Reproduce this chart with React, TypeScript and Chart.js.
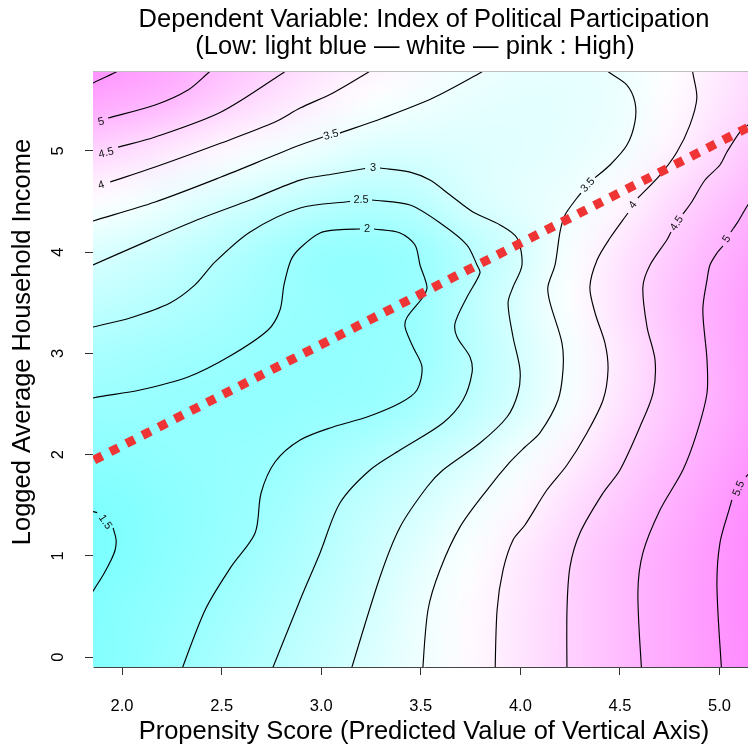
import React, { useEffect, useRef } from "react";
import { Chart, registerables } from "chart.js";

Chart.register(...registerables);

const FONT = "'Liberation Sans', Arial, Helvetica, sans-serif";

// ---------- axes ----------
const xTicks = [2.0, 2.5, 3.0, 3.5, 4.0, 4.5, 5.0];
const yTicks = [0, 1, 2, 3, 4, 5];
const xLimits = [1.854, 5.178];
const yLimits = [-0.096, 5.788];

const titleLines = [
  "Dependent Variable: Index of Political Participation",
  "(Low: light blue \u2014 white \u2014 pink : High)",
];
const xTitle = "Propensity Score (Predicted Value of Vertical Axis)";
const yTitle = "Logged Average Household Income";

// ---------- background field ----------
const gridX = [1.75, 2.0, 2.25, 2.5, 2.75, 3.0, 3.25, 3.5, 3.75, 4.0, 4.25, 4.5, 4.75, 5.0, 5.25];
const gridY = [6.0, 5.5, 5.0, 4.5, 4.0, 3.5, 3.0, 2.5, 2.0, 1.5, 1.0, 0.5, 0.0, -0.5];
const zRow60 = [5.75, 5.55, 5.3, 4.95, 4.6, 4.3, 4.05, 3.85, 3.6, 3.4, 3.35, 3.45, 3.75, 4.1, 4.45];
const zRow55 = [5.3, 5.15, 4.95, 4.57, 4.25, 3.97, 3.72, 3.52, 3.35, 3.28, 3.3, 3.42, 3.8, 4.15, 4.5];
const zRow50 = [4.55, 4.35, 4.1, 3.87, 3.6, 3.4, 3.12, 3.1, 3.18, 3.25, 3.33, 3.5, 3.95, 4.4, 4.8];
const zRow45 = [3.8, 3.67, 3.38, 3.08, 2.85, 2.58, 2.45, 2.6, 3.05, 3.3, 3.48, 3.88, 4.35, 4.75, 5.05];
const zRow40 = [3.2, 3.0, 2.8, 2.49, 2.2, 1.93, 1.88, 2.03, 2.5, 3.0, 3.64, 4.17, 4.6, 5.02, 5.35];
const zRow35 = [2.72, 2.62, 2.44, 2.24, 2.04, 1.92, 1.88, 2.03, 2.58, 3.14, 3.72, 4.25, 4.75, 5.15, 5.5];
const zRow30 = [2.3, 2.2, 2.1, 2.02, 1.93, 1.88, 1.9, 2.05, 2.5, 3.03, 3.58, 4.13, 4.67, 5.12, 5.5];
const zRow25 = [2.0, 1.97, 1.92, 1.88, 1.87, 1.9, 1.96, 2.2, 2.6, 3.05, 3.63, 4.2, 4.68, 5.1, 5.5];
const zRow20 = [1.73, 1.78, 1.85, 1.9, 1.96, 2.15, 2.4, 2.7, 3.05, 3.52, 3.98, 4.44, 4.85, 5.25, 5.6];
const zRow15 = [1.48, 1.58, 1.75, 1.9, 2.08, 2.38, 2.72, 3.04, 3.46, 3.87, 4.28, 4.67, 5.05, 5.42, 5.75];
const zRow10 = [1.4, 1.56, 1.77, 1.95, 2.2, 2.5, 2.88, 3.28, 3.7, 4.1, 4.48, 4.85, 5.18, 5.5, 5.8];
const zRow05 = [1.5, 1.7, 1.85, 2.08, 2.35, 2.66, 3.0, 3.45, 3.82, 4.16, 4.52, 4.87, 5.2, 5.51, 5.8];
const zRow00 = [1.6, 1.7, 1.95, 2.22, 2.49, 2.8, 3.13, 3.49, 3.84, 4.18, 4.52, 4.86, 5.2, 5.5, 5.8];
const zRowM05 = [1.65, 1.78, 2.05, 2.32, 2.6, 2.9, 3.22, 3.55, 3.88, 4.2, 4.54, 4.87, 5.2, 5.5, 5.8];
const gridZ = [zRow60, zRow55, zRow50, zRow45, zRow40, zRow35, zRow30, zRow25, zRow20, zRow15, zRow10, zRow05, zRow00, zRowM05];

const colorLow = [120, 255, 255];
const colorMid = [255, 255, 255];
const colorHigh = [255, 120, 255];
const zLow = 1.4;
const zMid = 3.75;
const zHigh = 6.0;

// ---------- contour lines (null = gap for label) ----------
type P = [number, number] | null;
const contour1_5: P[] = [
  [1.846, 1.442], [1.875, 1.428], null,
  [1.955, 1.277], [1.970, 1.158], [1.965, 1.059], [1.945, 0.961], [1.905, 0.813], [1.864, 0.684], [1.839, 0.605],
];
const contour2: P[] = [
  [1.814, 2.53], [1.854, 2.560], [2.090, 2.639], [2.331, 2.767], [2.542, 2.974], [2.733, 3.231], [2.793, 3.429],
  [2.813, 3.676], [2.848, 3.922], [2.894, 4.041], [2.994, 4.189], [3.095, 4.222], [3.195, 4.228], null,
  [3.265, 4.228], [3.396, 4.189], [3.471, 4.070], [3.496, 3.873], [3.531, 3.656], [3.511, 3.557], [3.431, 3.357],
  [3.421, 3.260], [3.461, 3.063], [3.506, 2.866], [3.481, 2.639], [3.396, 2.510], [3.230, 2.372], [3.059, 2.274],
  [2.894, 2.145], [2.768, 1.928], [2.698, 1.622], [2.668, 1.227], [2.547, 0.892], [2.417, 0.467], [2.281, -0.22],
];
const contour2_5: P[] = [
  [1.814, 3.235], [1.854, 3.260], [2.040, 3.350], [2.241, 3.498], [2.366, 3.676], [2.467, 3.903], [2.643, 4.199],
  [2.894, 4.435], [3.145, 4.50], null,
  [3.255, 4.514], [3.446, 4.465], [3.611, 4.268], [3.732, 4.070], [3.782, 3.873], [3.797, 3.794], [3.732, 3.557],
  [3.672, 3.298], [3.682, 3.162], [3.747, 2.964], [3.757, 2.807], [3.712, 2.540], [3.611, 2.313], [3.396, 2.046],
  [3.245, 1.849], [3.094, 1.523], [2.994, 1.030], [2.894, 0.566], [2.733, -0.22],
];
const contour3: P[] = [
  [1.814, 3.838], [1.854, 3.873], [2.141, 4.121], [2.392, 4.329], [2.643, 4.514], [2.894, 4.711], [3.06, 4.771],
  [3.220, 4.825], null,
  [3.295, 4.830], [3.446, 4.790], [3.546, 4.711], [3.647, 4.564], [3.762, 4.396], [3.898, 4.268], [3.983, 4.139],
  [4.008, 3.873], [3.963, 3.656], [3.938, 3.498], [3.963, 3.162], [3.998, 2.837], [3.988, 2.609], [3.933, 2.372],
  [3.797, 2.115], [3.611, 1.849], [3.531, 1.681], [3.396, 1.287], [3.295, 0.793], [3.135, -0.22],
];
const contour3_5a: P[] = [
  [1.814, 4.282], [1.854, 4.307], [2.166, 4.495], [2.497, 4.741], [2.768, 4.958], [2.894, 5.057], [3.009, 5.136], null,
  [3.094, 5.175], [3.310, 5.324], [3.561, 5.521], [3.797, 5.768], [3.82, 5.80],
];
const contour3_5b: P[] = [
  [4.400, 5.84], [4.450, 5.768], [4.535, 5.649], [4.575, 5.482], [4.575, 5.284], [4.535, 5.057], [4.450, 4.860],
  [4.375, 4.735], null,
  [4.304, 4.583], [4.284, 4.534], [4.224, 4.366], [4.199, 4.199], [4.174, 3.873], [4.138, 3.656], [4.149, 3.498],
  [4.209, 3.100], [4.214, 2.837], [4.189, 2.540], [4.098, 2.215], [4.023, 2.076], [3.948, 1.928], [3.832, 1.651],
  [3.697, 1.287], [3.596, 0.862], [3.536, 0.467], [3.506, -0.22],
];
const contour4a: P[] = [
  [1.940, 4.692], [2.166, 4.840], [2.497, 5.077], [2.768, 5.284], [2.894, 5.422], [3.059, 5.571], [3.230, 5.768], [3.26, 5.81],
];
const contour4b: P[] = [
  [4.861, 5.84], [4.866, 5.768], [4.886, 5.521], [4.851, 5.254], [4.786, 4.988], [4.701, 4.761], [4.590, 4.534], null,
  [4.540, 4.386], [4.450, 4.139], [4.385, 3.922], [4.349, 3.656], [4.375, 3.399], [4.425, 3.100], [4.440, 2.837],
  [4.415, 2.540], [4.334, 2.215], [4.234, 1.898], [4.133, 1.651], [4.023, 1.306], [3.963, 1.158], [3.913, 0.862],
  [3.883, 0.467], [3.872, -0.22],
];
const contour4_5a: P[] = [[1.980, 5.037], [2.166, 5.136], [2.497, 5.383], [2.808, 5.768], [2.83, 5.80]];
const contour4_5b: P[] = [
  [5.178, 5.325], [5.142, 5.254], [5.102, 5.185], [5.037, 4.988], [5.002, 4.860], [4.927, 4.712], [4.857, 4.485],
  [4.816, 4.376], null,
  [4.756, 4.199], [4.736, 4.122], [4.651, 3.873], [4.615, 3.656], [4.636, 3.260], [4.676, 2.936], [4.666, 2.609],
  [4.600, 2.274], [4.500, 1.849], [4.415, 1.622], [4.299, 1.227], [4.249, 0.892], [4.234, 0.467], [4.234, -0.22],
];
const contour5a: P[] = [[1.930, 5.324], [2.166, 5.452], [2.331, 5.600], [2.432, 5.768], [2.45, 5.80]];
const contour5b: P[] = [
  [5.178, 4.561], [5.142, 4.465], [5.092, 4.299], [5.057, 4.199], null,
  [5.017, 4.061], [4.987, 3.991], [4.952, 3.873], [4.937, 3.725], [4.916, 3.429], [4.937, 2.936], [4.937, 2.609],
  [4.886, 2.215], [4.816, 1.849], [4.701, 1.454], [4.615, 1.030], [4.590, 0.635], [4.611, -0.22],
];
const contour5_5a: P[] = [[1.835, 5.65], [1.854, 5.669], [1.970, 5.778], [1.985, 5.80]];
const contour5_5b: P[] = [
  [5.17, 1.86], [5.132, 1.78], null,
  [5.062, 1.554], [5.052, 1.484], [5.002, 1.129], [4.987, 0.694], [5.013, -0.22],
];
const contours = [
  contour1_5, contour2, contour2_5, contour3, contour3_5a, contour3_5b, contour4a, contour4b,
  contour4_5a, contour4_5b, contour5a, contour5b, contour5_5a, contour5_5b,
];

// contour labels
const labelText = ["1.5", "2", "2.5", "3", "3.5", "3.5", "4", "4", "4.5", "4.5", "5", "5", "5.5"];
const labelX = [1.915, 3.230, 3.200, 3.260, 3.049, 4.339, 1.895, 4.565, 1.920, 4.786, 1.895, 5.037, 5.097];
const labelY = [1.336, 4.228, 4.514, 4.830, 5.156, 4.662, 4.662, 4.466, 4.978, 4.284, 5.286, 4.130, 1.665];
const labelAngle = [55, 0, 0, 0, -15, -48, -18, -52, -15, -57, -15, -58, -68];

// fitted red dotted line
const fitX = [1.7786, 5.25];
const fitY = [1.8666, 5.338];

function mix(a: number[], b: number[], t: number) {
  return a.map((v, i) => Math.round(v + (b[i] - v) * t));
}
function zColor(z: number) {
  if (z <= zMid) {
    const t = Math.min(1, Math.max(0, (z - zLow) / (zMid - zLow)));
    return mix(colorLow, colorMid, t);
  }
  const t = Math.min(1, Math.max(0, (z - zMid) / (zHigh - zMid)));
  return mix(colorMid, colorHigh, t);
}

const heatmapPlugin = {
  id: "heatmap",
  beforeDatasetsDraw(chart: any) {
    const { ctx, chartArea, scales } = chart;
    const xs = scales.x;
    const ys = scales.y;
    const nx = gridX.length;
    const ny = gridY.length;
    const off = document.createElement("canvas");
    off.width = nx;
    off.height = ny;
    const octx = off.getContext("2d")!;
    const img = octx.createImageData(nx, ny);
    for (let r = 0; r < ny; r++) {
      for (let c = 0; c < nx; c++) {
        const col = zColor(gridZ[r][c]);
        const k = (r * nx + c) * 4;
        img.data[k] = col[0];
        img.data[k + 1] = col[1];
        img.data[k + 2] = col[2];
        img.data[k + 3] = 255;
      }
    }
    octx.putImageData(img, 0, 0);
    const dx = xs.getPixelForValue(gridX[1]) - xs.getPixelForValue(gridX[0]);
    const dy = ys.getPixelForValue(gridY[1]) - ys.getPixelForValue(gridY[0]);
    const left = xs.getPixelForValue(gridX[0]) - dx / 2;
    const top = ys.getPixelForValue(gridY[0]) - dy / 2;
    ctx.save();
    ctx.beginPath();
    ctx.rect(chartArea.left, chartArea.top, chartArea.right - chartArea.left, chartArea.bottom - chartArea.top);
    ctx.clip();
    ctx.imageSmoothingEnabled = true;
    (ctx as any).imageSmoothingQuality = "high";
    ctx.drawImage(off, left, top, dx * nx, dy * ny);

    // contour labels
    ctx.fillStyle = "#111";
    ctx.font = `11px ${FONT}`;
    ctx.textAlign = "center";
    ctx.textBaseline = "middle";
    for (let i = 0; i < labelText.length; i++) {
      const px = xs.getPixelForValue(labelX[i]);
      const py = ys.getPixelForValue(labelY[i]);
      ctx.save();
      ctx.translate(px, py);
      ctx.rotate((labelAngle[i] * Math.PI) / 180);
      ctx.fillText(labelText[i], 0, 0);
      ctx.restore();
    }
    ctx.restore();
  },
};

const decorPlugin = {
  id: "decor",
  afterDraw(chart: any) {
    const { ctx, chartArea } = chart;
    ctx.save();
    // top frame line
    ctx.strokeStyle = "#bdbdbd";
    ctx.lineWidth = 1;
    ctx.beginPath();
    ctx.moveTo(chartArea.left, chartArea.top + 0.5);
    ctx.lineTo(chartArea.right, chartArea.top + 0.5);
    ctx.stroke();
    // main title
    ctx.fillStyle = "#000";
    ctx.font = `25.5px ${FONT}`;
    ctx.textAlign = "center";
    ctx.textBaseline = "alphabetic";
    ctx.fillText(titleLines[0], 424, 27);
    ctx.fillText(titleLines[1], 415, 54);
    // y title
    ctx.translate(30, 342);
    ctx.rotate(-Math.PI / 2);
    ctx.font = `25.5px ${FONT}`;
    ctx.fillText(yTitle, 0, 0);
    ctx.restore();
  },
};

export default function App() {
  const ref = useRef<HTMLCanvasElement>(null);
  useEffect(() => {
    const datasets: any[] = [
      {
        label: "fit",
        data: fitX.map((x, i) => ({ x, y: fitY[i] })),
        showLine: true,
        borderColor: "#ee3434",
        borderWidth: 9,
        borderDash: [9.1, 9],
        borderCapStyle: "butt",
        pointRadius: 0,
        order: -1,
        clip: 0,
        tension: 0,
      },
      ...contours.map((c, i) => ({
        label: "c" + i,
        data: c.map((p) => (p ? { x: p[0], y: p[1] } : { x: null, y: null })),
        showLine: true,
        borderColor: "#000",
        borderWidth: 1.15,
        pointRadius: 0,
        tension: 0.3,
        spanGaps: false,
        clip: 0,
      })),
    ];
    const chart = new Chart(ref.current as HTMLCanvasElement, {
      type: "scatter",
      data: { datasets },
      options: {
        animation: false,
        responsive: false,
        maintainAspectRatio: false,
        devicePixelRatio: 1,
        events: [],
        layout: { padding: { top: 71, right: 5, bottom: 0, left: 0 } },
        plugins: {
          legend: { display: false },
          tooltip: { enabled: false },
          title: { display: false },
        },
        scales: {
          x: {
            type: "linear",
            min: xLimits[0],
            max: xLimits[1],
            afterBuildTicks: (s: any) => {
              s.ticks = xTicks.map((v) => ({ value: v }));
            },
            afterFit: (s: any) => {
              s.height = 81;
            },
            ticks: {
              autoSkip: false,
              minRotation: 0,
              maxRotation: 0,
              padding: 22,
              color: "#000",
              font: { size: 16.5, family: FONT },
              callback: (v: any) => Number(v).toFixed(1),
            },
            grid: { display: true, drawOnChartArea: false, drawTicks: true, tickLength: 8, tickColor: "#333", tickWidth: 1 },
            border: { display: true, color: "#444", width: 1 },
            title: {
              display: true,
              text: xTitle,
              color: "#000",
              font: { size: 25.5, family: FONT },
              padding: { top: 0, bottom: 1 },
            },
          },
          y: {
            type: "linear",
            min: yLimits[0],
            max: yLimits[1],
            afterBuildTicks: (s: any) => {
              s.ticks = yTicks.map((v) => ({ value: v }));
            },
            afterFit: (s: any) => {
              s.width = 93;
            },
            ticks: {
              autoSkip: false,
              minRotation: 90,
              maxRotation: 90,
              crossAlign: "center",
              padding: 22,
              color: "#000",
              font: { size: 16.5, family: FONT },
              callback: (v: any) => String(v),
            },
            grid: { display: true, drawOnChartArea: false, drawTicks: true, tickLength: 8, tickColor: "#333", tickWidth: 1 },
            border: { display: true, color: "#bdbdbd", width: 1 },
          },
        },
      } as any,
      plugins: [heatmapPlugin, decorPlugin],
    });
    return () => chart.destroy();
  }, []);
  return (
    <div
      style={{
        position: "fixed",
        left: 0,
        top: 0,
        width: 748,
        height: 748,
        overflow: "hidden",
        background: "#fff",
      }}
    >
      <canvas ref={ref} width={760} height={748} style={{ display: "block" }} />
    </div>
  );
}
